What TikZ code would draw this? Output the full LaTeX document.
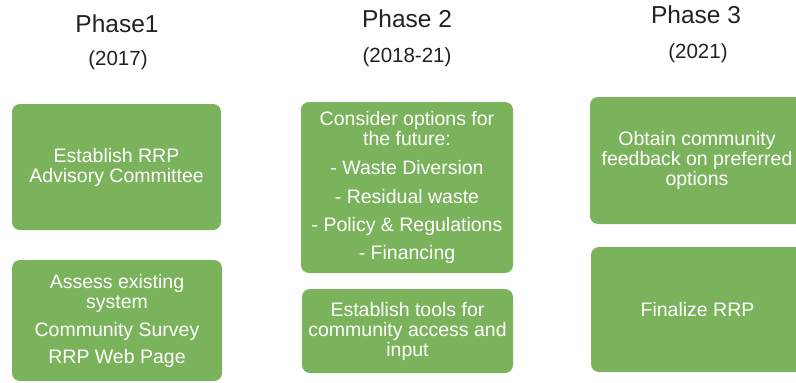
\documentclass[tikz,border=0pt]{standalone}
\usepackage{fontspec}
\setmainfont{Liberation Sans}
\definecolor{boxgreen}{HTML}{7BB35C}
\definecolor{titlegray}{HTML}{222222}
\begin{document}
\begin{tikzpicture}[x=1pt,y=-1pt,
  box/.style={fill=boxgreen, rounded corners=8pt, text=white, align=center,
    font=\fontsize{19.5}{20}\selectfont, inner sep=0pt},
  title/.style={text=titlegray, font=\fontsize{24.5}{26}\selectfont, anchor=base, inner sep=0pt},
  year/.style={text=titlegray, font=\fontsize{20.5}{22}\selectfont, anchor=base, inner sep=0pt}]
\useasboundingbox[fill=white] (0,0) rectangle (796,383);

\node[title] (t1) at (117,32) {Phase1};
\node[year] (y1) at (118,65) {(2017)};
\node[title] (t2) at (407,27) {Phase 2};
\node[year] (y2) at (407,62) {(2018-21)};
\node[title] (t3) at (696,23) {Phase 3};
\node[year] (y3) at (698,58) {(2021)};

\node[box, minimum width=209pt, minimum height=126pt] (b1) at (116.5,167)
  {Establish RRP\\Advisory Committee};
\node[box, minimum width=210pt, minimum height=121pt] (b2) at (117,320.5)
  {Assess existing\\system\\[8pt]Community Survey\\[7pt]RRP Web Page};
\node[box, minimum width=212pt, minimum height=171pt] (b3) at (407,187.5)
  {Consider options for\\the future:\\[9pt]- Waste Diversion\\[9pt]- Residual waste\\[8pt]- Policy \& Regulations\\[8pt]- Financing};
\node[box, minimum width=211pt, minimum height=84pt] (b4) at (407.5,331)
  {Establish tools for\\community access and\\input};
\node[box, minimum width=214pt, minimum height=127pt] (b5) at (697,160.5)
  {Obtain community\\feedback on preferred\\options};
\node[box, minimum width=213pt, minimum height=125pt] (b6) at (697.5,309.5)
  {Finalize RRP};
\end{tikzpicture}
\end{document}
